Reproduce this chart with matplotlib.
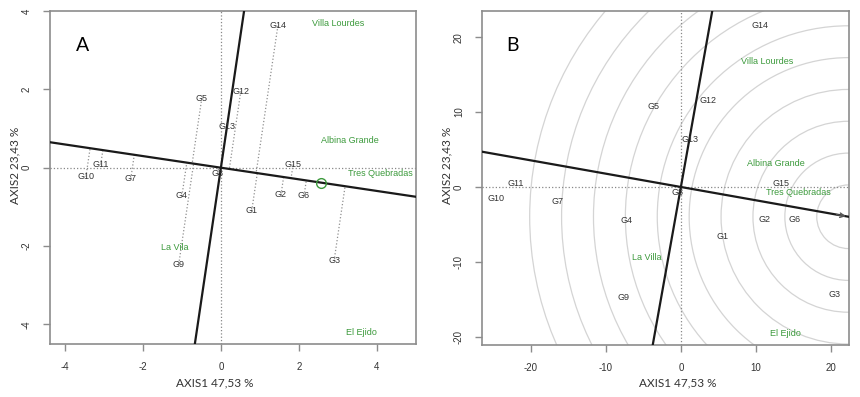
import numpy as np
import matplotlib
matplotlib.use('Agg')
import matplotlib.pyplot as plt
from matplotlib.patches import Circle

plt.rcParams['font.family'] = ['Liberation Sans', 'DejaVu Sans']
plt.rcParams['axes.unicode_minus'] = False

genotypes = ['G1', 'G2', 'G3', 'G4', 'G5', 'G6', 'G7', 'G8', 'G9', 'G10',
             'G11', 'G12', 'G13', 'G14', 'G15']

# panel A (mean vs stability)
gen_x_A = [0.79, 1.54, 2.90, -1.00, -0.49, 2.13, -2.31, -0.08, -1.08, -3.46,
           -3.08, 0.51, 0.15, 1.46, 1.85]
gen_y_A = [-1.10, -0.69, -2.38, -0.72, 1.77, -0.72, -0.28, -0.15, -2.46, -0.23,
           0.08, 1.95, 1.05, 3.62, 0.08]
env_names_A = ['Villa Lourdes', 'Albina Grande', 'Tres Quebradas', 'La Vila', 'El Ejido']
env_x_A = [3.00, 3.31, 4.08, -1.18, 3.60]
env_y_A = [3.69, 0.69, -0.15, -2.03, -4.20]
avg_env_A = [2.56, -0.38]

# panel B (ranking genotypes)
gen_x_B = [5.6, 11.1, 20.5, -7.2, -3.6, 15.1, -16.4, -0.5, -7.7, -24.7,
           -22.0, 3.6, 1.2, 10.5, 13.3]
gen_y_B = [-6.6, -4.3, -14.4, -4.5, 10.7, -4.4, -1.9, -0.8, -14.8, -1.5,
           0.4, 11.6, 6.3, 21.5, 0.5]
env_names_B = ['Villa Lourdes', 'Albina Grande', 'Tres Quebradas', 'La Villa', 'El Ejido']
env_x_B = [11.5, 12.7, 15.6, -4.5, 13.9]
env_y_B = [16.8, 3.2, -0.8, -9.4, -19.5]
avg_env_B = [9.9, -1.76]

x_label = 'AXIS1 47,53 %'
y_label = 'AXIS2 23,43 %'

frame_col = '#8c8c8c'
green = '#3c9a3c'
gen_col = '#333333'

fig = plt.figure(figsize=(8.6, 3.97), dpi=100)
axA = fig.add_axes([50 / 860, 1 - 344 / 397, 366 / 860, 333 / 397])
axB = fig.add_axes([482 / 860, 1 - 345 / 397, 367 / 860, 334 / 397])


def style_axes(ax):
    for s in ax.spines.values():
        s.set_color(frame_col)
        s.set_linewidth(1.2)
    ax.tick_params(direction='out', length=5, color=frame_col, width=1,
                   labelsize=7, labelcolor='#333333', pad=8)
    plt.setp(ax.get_yticklabels(), rotation=90, va='center')
    ax.axhline(0, ls=':', color='#888888', lw=0.9, zorder=1)
    ax.axvline(0, ls=':', color='#888888', lw=0.9, zorder=1)


# ---- A ----
axA.set_xlim(-4.38, 5.0)
axA.set_ylim(-4.5, 4.0)
axA.set_xticks([-4, -2, 0, 2, 4])
axA.set_yticks([-4, -2, 0, 2, 4])
style_axes(axA)

u = np.array(avg_env_A) / np.hypot(*avg_env_A)
axA.axline((0, 0), (u[0], u[1]), color='#1a1a1a', lw=1.6, zorder=3)
axA.axline((0, 0), (-u[1], u[0]), color='#1a1a1a', lw=1.6, zorder=3)
# projection of each genotype onto the average-environment axis
for gx, gy in zip(gen_x_A, gen_y_A):
    t = gx * u[0] + gy * u[1]
    axA.plot([gx, t * u[0]], [gy, t * u[1]], ls=':', color='#909090', lw=0.9, zorder=2)
for name, gx, gy in zip(genotypes, gen_x_A, gen_y_A):
    axA.text(gx, gy, name, fontsize=6.5, color=gen_col, ha='center', va='center', zorder=4)
for name, ex, ey in zip(env_names_A, env_x_A, env_y_A):
    axA.text(ex, ey, name, fontsize=6.5, color=green, ha='center', va='center', zorder=4)
axA.plot(avg_env_A[0], avg_env_A[1], 'o', mfc='none', mec=green, ms=7, mew=1, zorder=5)
axA.text(0.07, 0.88, 'A', transform=axA.transAxes, fontsize=14, family='Lato')

# ---- B ----
axB.set_xlim(-26.5, 22.4)
axB.set_ylim(-21.1, 23.5)
axB.set_xticks([-20, -10, 0, 10, 20])
axB.set_yticks([-20, -10, 0, 10, 20])
style_axes(axB)

v = np.array(avg_env_B) / np.hypot(*avg_env_B)
proj = [gx * v[0] + gy * v[1] for gx, gy in zip(gen_x_B, gen_y_B)]
ideal = v * max(proj)
ring_step = 4.25
for k in range(1, 11):
    axB.add_patch(Circle(ideal, k * ring_step, fill=False, ec='#d4d4d4', lw=0.9, zorder=0))
axB.axline((0, 0), (v[0], v[1]), color='#1a1a1a', lw=1.6, zorder=3)
axB.axline((0, 0), (-v[1], v[0]), color='#1a1a1a', lw=1.6, zorder=3)
axB.annotate('', xy=(ideal[0], ideal[1]), xytext=(ideal[0] - 2 * v[0], ideal[1] - 2 * v[1]),
             arrowprops=dict(arrowstyle='->', color='#555555', lw=1, mutation_scale=8),
             annotation_clip=False, zorder=4)
for name, gx, gy in zip(genotypes, gen_x_B, gen_y_B):
    axB.text(gx, gy, name, fontsize=6.5, color=gen_col, ha='center', va='center', zorder=4)
for name, ex, ey in zip(env_names_B, env_x_B, env_y_B):
    axB.text(ex, ey, name, fontsize=6.5, color=green, ha='center', va='center', zorder=4)
axB.text(0.065, 0.88, 'B', transform=axB.transAxes, fontsize=14, family='Lato')

# axis titles
for xc, yc in [(215, 383), (678, 383)]:
    fig.text(xc / 860, 1 - yc / 397, x_label, fontsize=8.5, family='Lato',
             color='#333333', ha='center', va='center')
for xc, yc in [(15, 165), (447, 165)]:
    fig.text(xc / 860, 1 - yc / 397, y_label, fontsize=8.5, family='Lato',
             color='#333333', ha='center', va='center', rotation=90)

fig.savefig('out.png', dpi=100)
